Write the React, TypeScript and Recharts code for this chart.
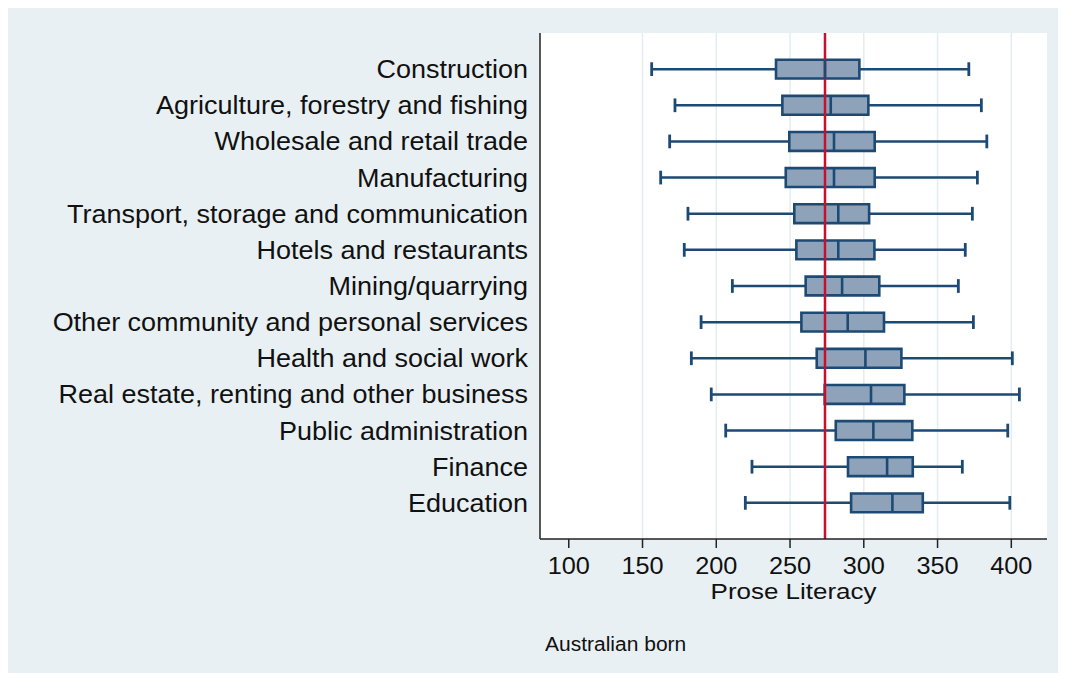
import React from "react";
import {
  ComposedChart,
  Scatter,
  XAxis,
  YAxis,
  CartesianGrid,
  ReferenceArea,
  ReferenceLine,
} from "recharts";

// Industries, top to bottom
const industries = [
  "Construction",
  "Agriculture, forestry and fishing",
  "Wholesale and retail trade",
  "Manufacturing",
  "Transport, storage and communication",
  "Hotels and restaurants",
  "Mining/quarrying",
  "Other community and personal services",
  "Health and social work",
  "Real estate, renting and other business",
  "Public administration",
  "Finance",
  "Education",
];

// Box plot statistics (prose literacy score)
const lowerWhisker = [156.2, 172.0, 168.4, 162.3, 180.8, 178.3, 210.9, 189.7, 183.1, 196.6, 206.4, 224.2, 219.7];
const lowerQuartile = [240.5, 244.8, 249.5, 247.1, 252.9, 254.3, 260.6, 257.7, 268.1, 273.5, 281.0, 289.3, 291.4];
const medians = [273.7, 277.6, 279.8, 279.8, 282.7, 282.7, 285.3, 289.1, 301.1, 304.9, 306.5, 315.8, 319.4];
const upperQuartile = [297.0, 303.1, 307.4, 307.4, 303.6, 307.2, 310.5, 313.7, 325.5, 327.5, 332.9, 333.2, 340.0];
const upperWhisker = [371.2, 379.7, 383.4, 377.0, 373.6, 368.8, 364.1, 374.3, 400.7, 405.5, 397.6, 366.8, 399.0];

// Overall median, drawn as the red line
const overallMedian = 273.7;

const xTicks = [100, 150, 200, 250, 300, 350, 400];
const gridValues = [150, 200, 250, 300, 350, 400];

const FONT = '"Liberation Sans", Arial, Helvetica, sans-serif';
const BOX_FILL = "#8ea3b9";
const BOX_LINE = "#1d4a74";
const BOX_HALF = 0.26;
const CAP_HALF = 0.19;

const rows = industries.map((name, i) => ({
  name,
  pos: i + 1,
  lo: lowerWhisker[i],
  q1: lowerQuartile[i],
  med: medians[i],
  q3: upperQuartile[i],
  hi: upperWhisker[i],
}));

const CategoryTick = (props: any) => {
  const { x, y, payload } = props;
  const label = industries[payload.value - 1] ?? "";
  return (
    <text
      transform={`translate(${x},${y + 9}) scale(1.08,1)`}
      textAnchor="end"
      fontFamily={FONT}
      fontSize={25}
      fill="#111"
    >
      {label}
    </text>
  );
};

const ValueTick = (props: any) => {
  const { x, y, payload } = props;
  return (
    <text
      transform={`translate(${x},${y + 24}) scale(1.1,1)`}
      textAnchor="middle"
      fontFamily={FONT}
      fontSize={23}
      fill="#111"
    >
      {payload.value}
    </text>
  );
};

const AxisTitle = (props: any) => {
  const { viewBox } = props;
  const cx = viewBox.x + viewBox.width / 2;
  return (
    <text
      transform={`translate(${cx},${viewBox.y + 60}) scale(1.18,1)`}
      textAnchor="middle"
      fontFamily={FONT}
      fontSize={22}
      fill="#111"
    >
      Prose Literacy
    </text>
  );
};

export default function App() {
  return (
    <div
      style={{
        position: "relative",
        width: 1058,
        height: 665,
        background: "#e8f0f3",
      }}
    >
      <ComposedChart
        width={1058}
        height={665}
        data={rows}
        margin={{ top: 25, right: 19, bottom: 74, left: 0 }}
      >
        <CartesianGrid
          horizontal={false}
          verticalValues={gridValues}
          stroke="#e3edf1"
          strokeWidth={1.5}
          fill="#ffffff"
          fillOpacity={1}
        />
        <XAxis
          type="number"
          dataKey="med"
          domain={[80.5, 424.2]}
          ticks={xTicks}
          allowDataOverflow
          height={60}
          tickSize={9}
          tickMargin={2}
          tick={<ValueTick />}
          axisLine={{ stroke: "#222", strokeWidth: 1.5 }}
          tickLine={{ stroke: "#222", strokeWidth: 1.5 }}
          label={<AxisTitle />}
        />
        <YAxis
          type="number"
          dataKey="pos"
          domain={[0, 14]}
          reversed
          ticks={rows.map((r) => r.pos)}
          interval={0}
          width={532}
          tickSize={0}
          tickMargin={12}
          tickLine={false}
          tick={<CategoryTick />}
          axisLine={{ stroke: "#222", strokeWidth: 1.5 }}
        />
        <Scatter dataKey="med" isAnimationActive={false} shape={() => <g />} />

        {/* whiskers and caps */}
        {rows.map((r) => (
          <ReferenceLine
            key={`wl-${r.pos}`}
            segment={[{ x: r.lo, y: r.pos }, { x: r.q1, y: r.pos }]}
            stroke={BOX_LINE}
            strokeWidth={2.5}
          />
        ))}
        {rows.map((r) => (
          <ReferenceLine
            key={`wh-${r.pos}`}
            segment={[{ x: r.q3, y: r.pos }, { x: r.hi, y: r.pos }]}
            stroke={BOX_LINE}
            strokeWidth={2.5}
          />
        ))}
        {rows.map((r) => (
          <ReferenceLine
            key={`cl-${r.pos}`}
            segment={[{ x: r.lo, y: r.pos - CAP_HALF }, { x: r.lo, y: r.pos + CAP_HALF }]}
            stroke={BOX_LINE}
            strokeWidth={2.8}
          />
        ))}
        {rows.map((r) => (
          <ReferenceLine
            key={`ch-${r.pos}`}
            segment={[{ x: r.hi, y: r.pos - CAP_HALF }, { x: r.hi, y: r.pos + CAP_HALF }]}
            stroke={BOX_LINE}
            strokeWidth={2.8}
          />
        ))}

        {/* interquartile boxes */}
        {rows.map((r) => (
          <ReferenceArea
            key={`box-${r.pos}`}
            x1={r.q1}
            x2={r.q3}
            y1={r.pos - BOX_HALF}
            y2={r.pos + BOX_HALF}
            fill={BOX_FILL}
            fillOpacity={1}
            stroke={BOX_LINE}
            strokeWidth={2.6}
          />
        ))}

        {/* overall median */}
        <ReferenceLine x={overallMedian} stroke="#c8102e" strokeWidth={2.5} />

        {/* group medians */}
        {rows.map((r) => (
          <ReferenceLine
            key={`md-${r.pos}`}
            segment={[{ x: r.med, y: r.pos - BOX_HALF }, { x: r.med, y: r.pos + BOX_HALF }]}
            stroke={BOX_LINE}
            strokeWidth={2.6}
          />
        ))}
      </ComposedChart>
      <div
        style={{
          position: "absolute",
          left: 537,
          top: 625,
          fontFamily: FONT,
          fontSize: 20,
          color: "#111",
          transform: "scaleX(1.05)",
          transformOrigin: "left top",
          whiteSpace: "nowrap",
        }}
      >
        Australian born
      </div>
    </div>
  );
}
